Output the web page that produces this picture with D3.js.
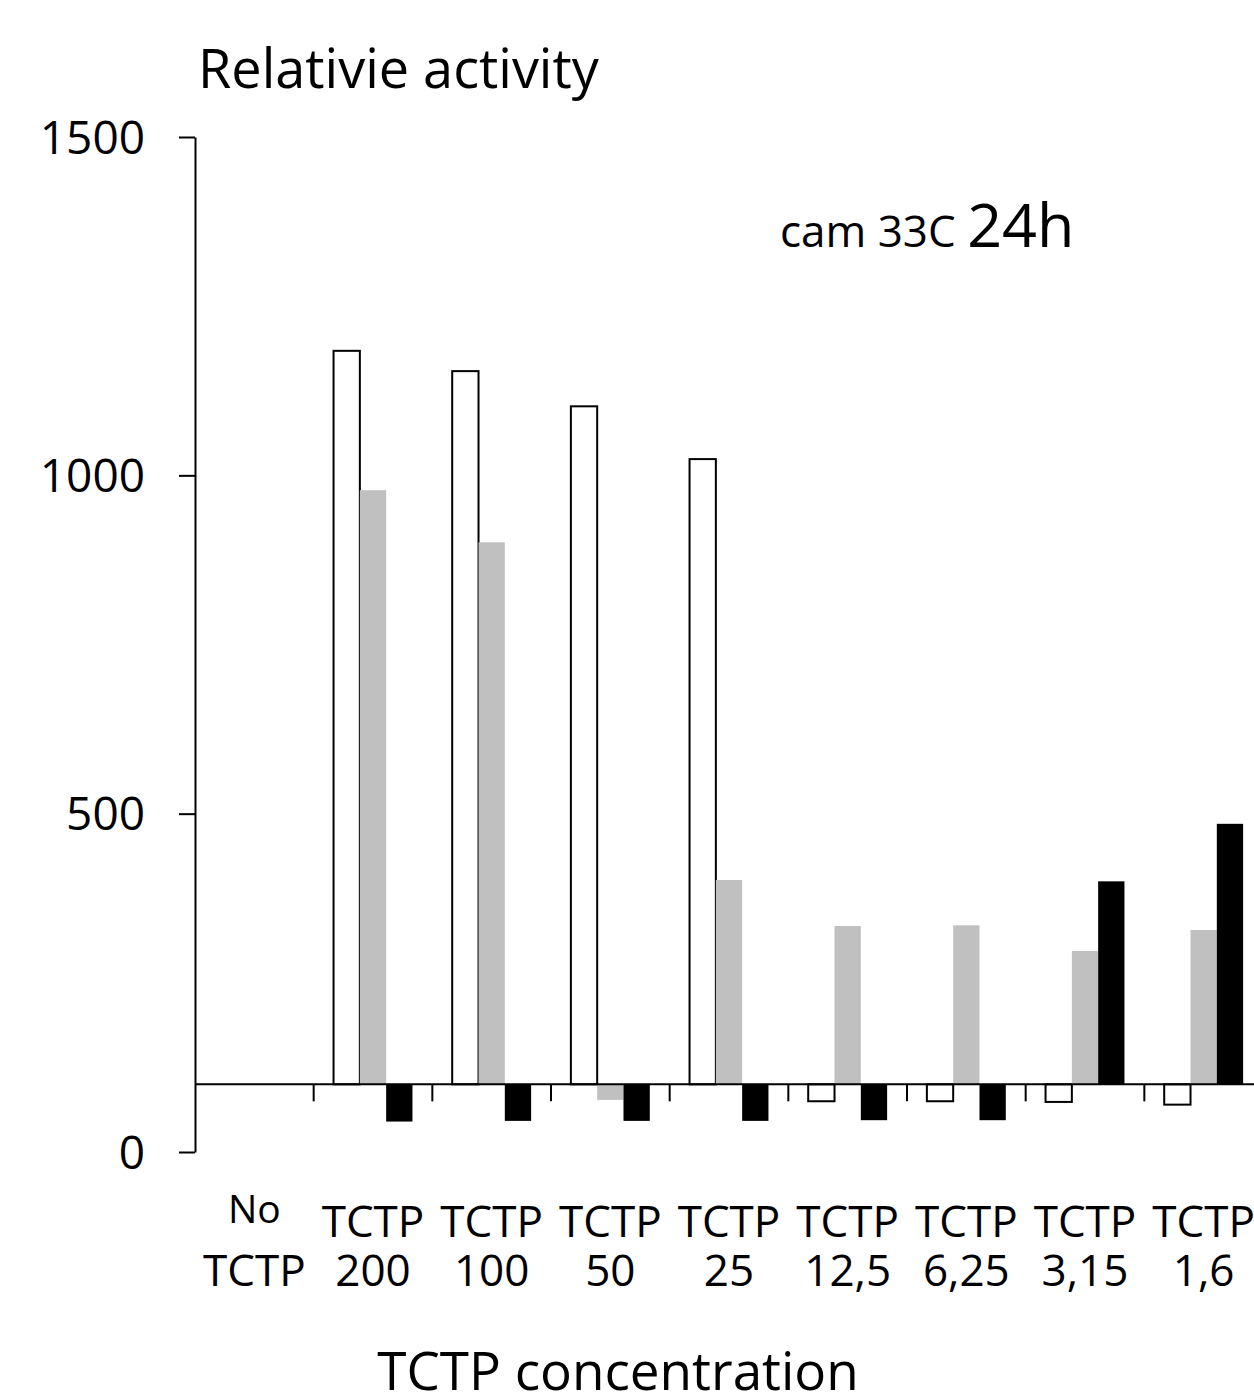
<!DOCTYPE html>
<html>
<head>
<meta charset="utf-8">
<script src="https://cdn.jsdelivr.net/npm/d3@7"></script>
<style>
  body { margin: 0; background: #fff; }
  svg { display: block; font-family: 'Open Sans', sans-serif; }
</style>
</head>
<body>
<div id="chart"></div>
<script>
const categories = ['No TCTP', 'TCTP 200', 'TCTP 100', 'TCTP 50', 'TCTP 25', 'TCTP 12,5', 'TCTP 6,25', 'TCTP 3,15', 'TCTP 1,6']
const labelTop = ['No', 'TCTP', 'TCTP', 'TCTP', 'TCTP', 'TCTP', 'TCTP', 'TCTP', 'TCTP']
const labelBottom = ['TCTP', '200', '100', '50', '25', '12,5', '6,25', '3,15', '1,6']
const whiteValues = [100, 1184, 1154, 1102, 1024, 75, 75, 74, 70]
const grayValues = [100, 978, 901, 77, 402, 334, 335, 297, 328]
const blackValues = [100, 45, 46, 46, 46, 47, 47, 400, 485]
const yTicks = [0, 500, 1000, 1500]
const baseValue = 100

const width = 1254
const height = 1392

const svg = d3.select('#chart')
  .append('svg')
  .attr('width', width)
  .attr('height', height)

const y = d3.scaleLinear()
  .domain([0, 1500])
  .range([1152, 137])

const x = d3.scaleBand()
  .domain(categories)
  .range([195, 1263])
  .paddingInner(0.335)
  .paddingOuter(0.1675)

const series = [
  { key: 'white', values: whiteValues, fill: '#fff', stroke: '#000' },
  { key: 'gray', values: grayValues, fill: '#c0c0c0', stroke: 'none' },
  { key: 'black', values: blackValues, fill: '#000', stroke: 'none' }
]

const xs = d3.scaleBand()
  .domain(series.map(s => s.key))
  .range([0, x.bandwidth()])

// bars, drawn from the baseline at 100
series.forEach(s => {
  svg.append('g')
    .selectAll('rect')
    .data(categories.map((c, i) => ({ cat: c, v: s.values[i] })))
    .join('rect')
    .attr('x', d => x(d.cat) + xs(s.key))
    .attr('width', xs.bandwidth())
    .attr('y', d => Math.min(y(d.v), y(baseValue)))
    .attr('height', d => Math.abs(y(d.v) - y(baseValue)))
    .attr('fill', s.fill)
    .attr('stroke', s.stroke)
    .attr('stroke-width', 2)
})

// y axis
const yAxis = svg.append('g')
  .attr('transform', 'translate(195,0)')
  .call(d3.axisLeft(y).tickValues(yTicks).tickFormat(d3.format('d')).tickSize(16).tickSizeOuter(0).tickPadding(34))
yAxis.select('.domain').attr('stroke-width', 2)
yAxis.selectAll('.tick line').attr('stroke-width', 2)
yAxis.selectAll('.tick text')
  .attr('font-size', 46)
  .attr('font-family', "'Open Sans', sans-serif")
  .attr('fill', '#000')
  .attr('dy', '0.35em')

// baseline with ticks between categories
const base = svg.append('g')
base.append('line')
  .attr('x1', 195).attr('x2', 1263)
  .attr('y1', y(baseValue)).attr('y2', y(baseValue))
  .attr('stroke', '#000').attr('stroke-width', 2)
base.selectAll('.sep')
  .data(categories.slice(1))
  .join('line')
  .attr('class', 'sep')
  .attr('x1', d => x(d) - x.step() * x.paddingInner() / 2)
  .attr('x2', d => x(d) - x.step() * x.paddingInner() / 2)
  .attr('y1', y(baseValue))
  .attr('y2', y(baseValue) + 17)
  .attr('stroke', '#000').attr('stroke-width', 2)

// category labels
const labels = svg.append('g').attr('text-anchor', 'middle').attr('fill', '#000')
labels.selectAll('.top')
  .data(categories)
  .join('text')
  .attr('class', 'top')
  .attr('x', d => x(d) + x.bandwidth() / 2)
  .attr('y', (d, i) => i === 0 ? 1223 : 1237)
  .attr('font-size', (d, i) => i === 0 ? 39 : 44)
  .text((d, i) => labelTop[i])
labels.selectAll('.bottom')
  .data(categories)
  .join('text')
  .attr('class', 'bottom')
  .attr('x', d => x(d) + x.bandwidth() / 2)
  .attr('y', 1286)
  .attr('font-size', 44)
  .text((d, i) => labelBottom[i])

// titles
svg.append('text')
  .attr('x', 198).attr('y', 88)
  .attr('font-size', 54)
  .text('Relativie activity')

svg.append('text')
  .attr('x', 618).attr('y', 1390)
  .attr('text-anchor', 'middle')
  .attr('font-size', 53)
  .text('TCTP concentration')

const note = svg.append('text')
  .attr('x', 780).attr('y', 247)
note.append('tspan').attr('font-size', 44).text('cam 33C ')
note.append('tspan').attr('font-size', 61).text('24h')
</script>
</body>
</html>
